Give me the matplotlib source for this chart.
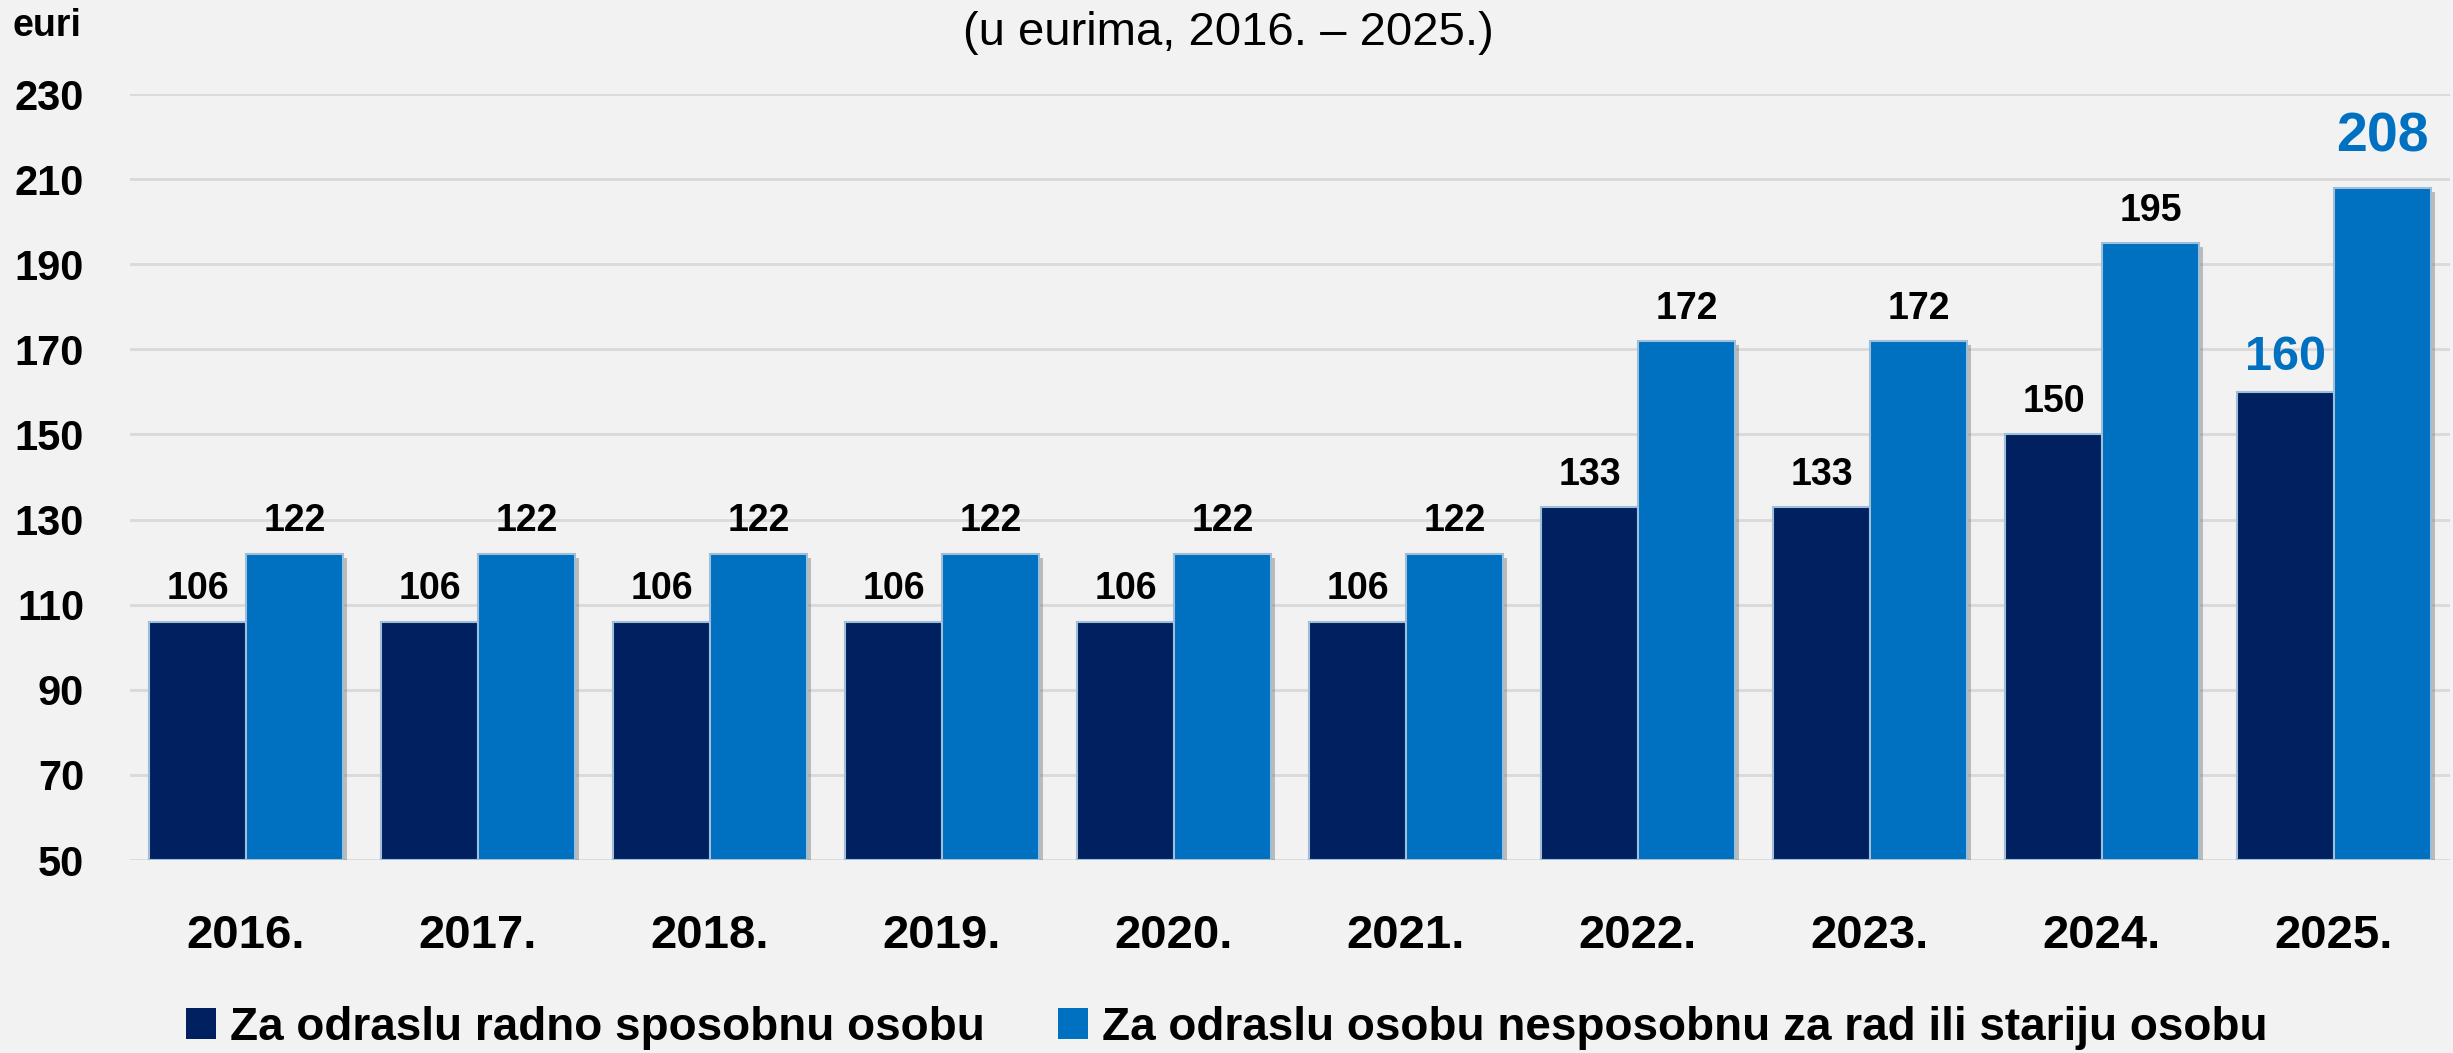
import matplotlib.pyplot as plt
import matplotlib.patheffects as pe
from matplotlib.patches import Patch
import numpy as np

plt.rcParams['font.family'] = ['Liberation Sans', 'DejaVu Sans']

years = ["2016.", "2017.", "2018.", "2019.", "2020.", "2021.", "2022.", "2023.", "2024.", "2025."]
radno_sposobni = [106, 106, 106, 106, 106, 106, 133, 133, 150, 160]
nesposobni_stariji = [122, 122, 122, 122, 122, 122, 172, 172, 195, 208]
series_names = ["Za odraslu radno sposobnu osobu",
                "Za odraslu osobu nesposobnu za rad ili stariju osobu"]
yticks = [50, 70, 90, 110, 130, 150, 170, 190, 210, 230]

dark = "#002060"
light = "#0070c0"
bg = "#f2f2f2"

fig = plt.figure(figsize=(24.53, 10.53), dpi=100, facecolor=bg)
ax = fig.add_axes([130 / 2453, 1 - 860 / 1053, 2320 / 2453, 766 / 1053])
ax.set_facecolor(bg)

x = np.arange(len(years))
w = 0.418
shadow = [pe.SimplePatchShadow(offset=(3, -3), shadow_rgbFace="#7a7a7a", alpha=0.45), pe.Normal()]

b1 = ax.bar(x - w / 2, [v - 50 for v in radno_sposobni], w, bottom=50, color=dark,
            edgecolor="#9fbfd8", linewidth=1.5, zorder=3)
b2 = ax.bar(x + w / 2, [v - 50 for v in nesposobni_stariji], w, bottom=50, color=light,
            edgecolor="#9fbfd8", linewidth=1.5, zorder=3)
for b in list(b1) + list(b2):
    b.set_path_effects(shadow)

for i in range(len(years)):
    last = i == len(years) - 1
    ax.annotate(str(radno_sposobni[i]), (x[i] - w / 2, radno_sposobni[i]), xytext=(0, 16),
                textcoords="offset points", ha="center", va="baseline", fontweight="bold",
                fontsize=35 if last else 27, color=light if last else "black")
    ax.annotate(str(nesposobni_stariji[i]), (x[i] + w / 2, nesposobni_stariji[i]), xytext=(0, 16 if not last else 26),
                textcoords="offset points", ha="center", va="baseline", fontweight="bold",
                fontsize=40 if last else 27, color=light if last else "black")

ax.set_xlim(-0.5, len(years) - 0.5)
ax.set_ylim(50, 230)
ax.set_yticks(yticks)
ax.set_xticks(x)
ax.set_xticklabels(years)
ax.tick_params(axis="y", length=0, pad=33, labelsize=30)
ax.tick_params(axis="x", length=0, pad=39, labelsize=34)
for lab in ax.get_xticklabels() + ax.get_yticklabels():
    lab.set_fontweight("bold")
ax.grid(axis="y", color="#d9d9d9", linewidth=2, zorder=0)
ax.set_axisbelow(True)
for s in ax.spines.values():
    s.set_visible(False)

fig.text(47 / 2453, 1 - 26 / 1053, "euri", ha="center", va="center", fontsize=27, fontweight="bold")
fig.text(1228 / 2453, 1 - 33 / 1053, "(u eurima, 2016. – 2025.)", ha="center", va="center", fontsize=34)

handles = [Patch(facecolor=dark), Patch(facecolor=light)]
fig.legend(handles=handles, labels=series_names, loc="center", bbox_to_anchor=(0.5, 25 / 1053),
           ncol=2, frameon=False, prop={"weight": "bold", "size": 33},
           handlelength=0.66, handleheight=0.66, handletextpad=0.3, columnspacing=1.6)

fig.savefig("out.png", dpi=100, facecolor=bg)
